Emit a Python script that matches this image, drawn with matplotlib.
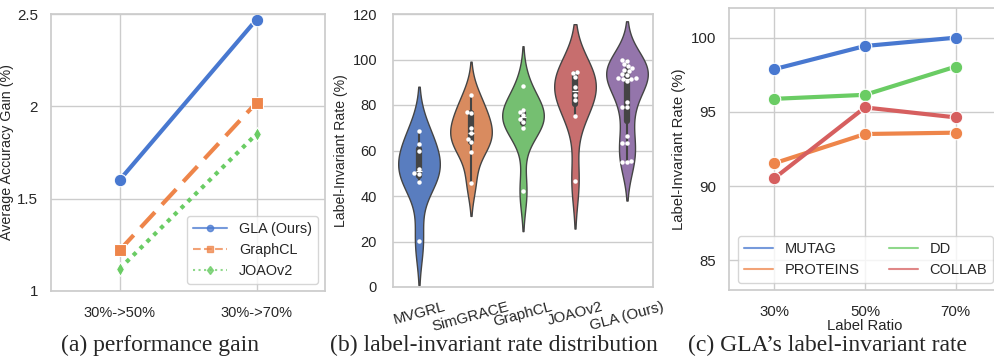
import numpy as np
import pandas as pd
import matplotlib
matplotlib.use("Agg")
import matplotlib.pyplot as plt
from matplotlib.lines import Line2D
import seaborn as sns

# ---------- data ----------
gain_steps = ["30%->50%", "30%->70%"]
gain_gla = [1.60, 2.47]
gain_graphcl = [1.22, 2.02]
gain_joaov2 = [1.12, 1.85]

methods = ["MVGRL", "SimGRACE", "GraphCL", "JOAOv2", "GLA (Ours)"]
rate_mvgrl = [68.7, 63.0, 59.7, 52.0, 50.2, 49.8, 46.3, 20.2]
rate_simgrace = [84.5, 77.0, 76.3, 69.8, 67.5, 65.2, 63.8, 59.2, 45.8]
rate_graphcl = [88.3, 77.9, 76.8, 75.5, 73.9, 72.6, 69.9, 42.1]
rate_joaov2 = [94.6, 94.2, 92.5, 87.8, 84.5, 82.2, 75.0, 46.6]
rate_gla = [100.0, 99.5, 98.2, 97.0, 96.2, 95.6, 95.0, 93.6, 93.2, 92.0, 91.8,
            91.5, 91.5, 90.5, 81.2, 79.3, 79.1, 66.4, 63.4, 63.3, 55.6, 55.0, 54.8]

ratios = ["30%", "50%", "70%"]
inv_mutag = [97.88, 99.44, 100.0]
inv_proteins = [91.54, 93.51, 93.60]
inv_dd = [95.88, 96.15, 98.05]
inv_collab = [90.53, 95.30, 94.63]

# ---------- style ----------
sns.set_theme(style="whitegrid", palette="muted")
plt.rcParams["font.family"] = ["Liberation Sans", "DejaVu Sans"]
pal = sns.color_palette("muted")

fig = plt.figure(figsize=(9.95, 3.58), dpi=100)
W, H = 995, 358

def add_ax(l, r, t, b):
    return fig.add_axes([l / W, 1 - b / H, (r - l) / W, (b - t) / H])

cap_fs = 17
cap_y = 1 - 345 / H

# ---------- (a) ----------
ax1 = add_ax(51, 325, 14, 291)
x = np.arange(len(gain_steps))
ax1.plot(x, gain_gla, color=pal[0], lw=3, ls="-", marker="o", ms=9, mec="white", mew=0.8)
ax1.plot(x, gain_graphcl, color=pal[1], lw=3, ls=(0, (5, 2.5)), marker="s", ms=8, mec="white", mew=0.8)
ax1.plot(x, gain_joaov2, color=pal[2], lw=3, ls=(0, (1, 1.3)), marker="d", ms=7, mec="white", mew=0.8)
ax1.set_xlim(-0.5, 1.5)
ax1.set_ylim(1, 2.5)
ax1.set_xticks(x)
ax1.set_xticklabels(gain_steps, fontsize=10.5)
ax1.set_yticks([1, 1.5, 2, 2.5])
ax1.set_yticklabels(["1", "1.5", "2", "2.5"], fontsize=10.9)
ax1.tick_params(axis="y", pad=3.5)
ax1.tick_params(axis="x", pad=5)
ax1.set_ylabel("Average Accuracy Gain (%)", fontsize=10.3, labelpad=2)
handles = [
    Line2D([], [], color=pal[0], lw=1.5, ls="-", marker="o", ms=4.5, alpha=0.75),
    Line2D([], [], color=pal[1], lw=1.5, ls="--", marker="s", ms=4.5, alpha=0.75),
    Line2D([], [], color=pal[2], lw=1.5, ls=":", marker="d", ms=4.5, alpha=0.75),
]
ax1.legend(handles, ["GLA (Ours)", "GraphCL", "JOAOv2"], loc="lower right",
           fontsize=10.4, frameon=True, handlelength=2.4)
fig.text(160 / W, cap_y, "(a) performance gain",
         family="Liberation Serif", fontsize=cap_fs, ha="center", va="center")

# ---------- (b) ----------
ax2 = add_ax(393, 653, 14, 287)
groups = [rate_mvgrl, rate_simgrace, rate_graphcl, rate_joaov2, rate_gla]
df = pd.DataFrame({
    "method": np.concatenate([[m] * len(g) for m, g in zip(methods, groups)]),
    "rate": np.concatenate(groups),
})
sns.violinplot(data=df, x="method", y="rate", hue="method", palette="muted",
               order=methods, hue_order=methods, legend=False, ax=ax2,
               linewidth=1, linecolor="#444444", inner="box")
sns.swarmplot(data=df, x="method", y="rate", order=methods, color="white",
              size=3.2, ax=ax2)
ax2.set_xlim(-0.5, 4.5)
ax2.set_ylim(0, 120)
ax2.set_yticks(range(0, 121, 20))
ax2.tick_params(axis="y", labelsize=10.5, pad=5.5)
ax2.tick_params(axis="x", pad=3)
ax2.set_xticks(range(len(methods)))
ax2.set_xticklabels(methods, rotation=15, fontsize=10.8, ha="center")
ax2.set_xlabel("")
ax2.set_ylabel("Label-Invariant Rate (%)", fontsize=10.1, labelpad=3)
ax2.grid(axis="x", visible=False)
fig.text(494 / W, cap_y, "(b) label-invariant rate distribution",
         family="Liberation Serif", fontsize=cap_fs, ha="center", va="center")

# ---------- (c) ----------
ax3 = add_ax(729, 1001, 8, 290)
xr = np.arange(len(ratios))
for vals, c in zip([inv_mutag, inv_proteins, inv_dd, inv_collab], [pal[0], pal[1], pal[2], pal[3]]):
    ax3.plot(xr, vals, color=c, lw=3, marker="o", ms=9, mec="white", mew=0.8)
ax3.set_xlim(-0.5, 2.5)
ax3.set_ylim(83, 102)
ax3.set_xticks(xr)
ax3.set_xticklabels(ratios, fontsize=10.8)
ax3.set_yticks([85, 90, 95, 100])
ax3.tick_params(axis="y", labelsize=10.8, pad=3)
ax3.tick_params(axis="x", pad=4.5)
ax3.set_xlabel("Label Ratio", fontsize=10.7, labelpad=0)
ax3.set_ylabel("Label-Invariant Rate (%)", fontsize=10.7, labelpad=3.5)
lh = [Line2D([], [], color=c, lw=1.5, alpha=0.75) for c in [pal[0], pal[1], pal[2], pal[3]]]
ax3.legend(lh, ["MUTAG", "PROTEINS", "DD", "COLLAB"], ncol=2, fontsize=10.5,
           loc="lower left", bbox_to_anchor=(0.033, 0.025), borderaxespad=0,
           handlelength=2, columnspacing=2.0, frameon=True)
fig.text(828 / W, cap_y, "(c) GLA\u2019s label-invariant rate",
         family="Liberation Serif", fontsize=cap_fs, ha="center", va="center")

fig.savefig("out.png", dpi=100)
